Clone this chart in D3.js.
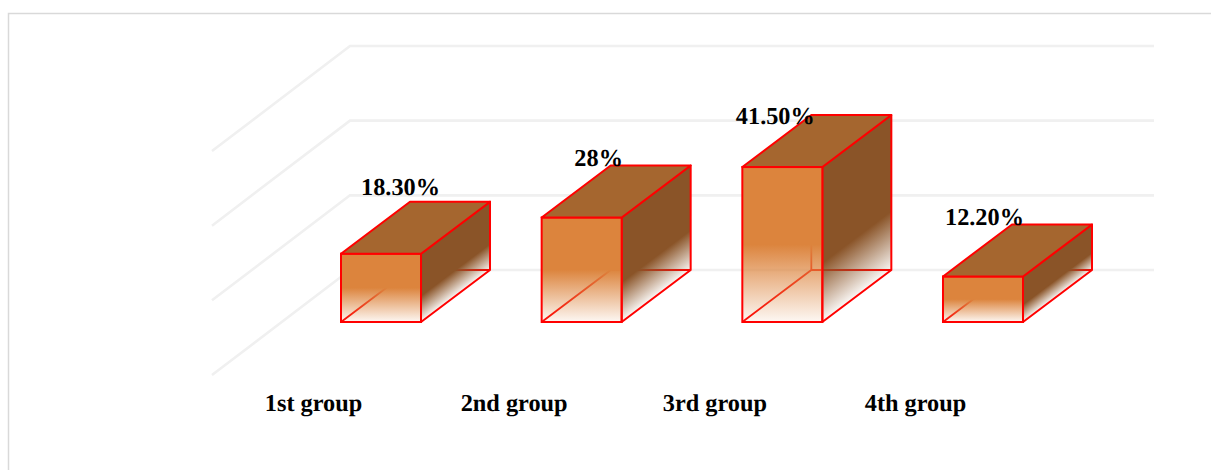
<!DOCTYPE html>
<html><head><meta charset="utf-8">
<script src="https://cdn.jsdelivr.net/npm/d3@7/dist/d3.min.js"></script>
<style>html,body{margin:0;padding:0;background:#fff}svg{display:block}text{font-family:"Liberation Serif","Times New Roman",serif;font-weight:bold;font-size:24.3px;fill:#000;text-rendering:geometricPrecision}</style>
</head><body><svg id="c" width="1211" height="470"></svg>
<script>
const categories = ["1st group","2nd group","3rd group","4th group"];
const values = [18.3,28,41.5,12.2];
const valueLabels = ["18.30%","28%","41.50%","12.20%"];
const gridTicks = [0,20,40,60];
const labelDx = [19.5,17,-7,1.5];
const labelDy = [-7,1,9,1];

const svg = d3.select("#c");
const floorFront = 322, depthX = 69, depthY = 52, wallX = 138, wallY = 105;
const wallLeft = 350, wallRight = 1154, wallZero = 270;
const x = d3.scaleBand().domain(categories).range([341,1023]).paddingInner(0.6013).paddingOuter(0);
const h = d3.scaleLinear().domain([0,60]).range([0,224]);
const w = x.bandwidth();

// frame
svg.append("path").attr("d","M8.5,470V13.5H1211").attr("fill","none").attr("stroke","#d9d9d9").attr("stroke-width",1.5);

// gridlines on the walls
svg.append("g").selectAll("path").data(gridTicks).join("path")
  .attr("d",t=>{const y=wallZero-h(t);return `M${wallLeft-wallX},${y+wallY}L${wallLeft},${y}H${wallRight}`;})
  .attr("fill","none").attr("stroke","#f0f0f0").attr("stroke-width",2.6);

const defs = svg.append("defs");
function grad(id,color,x0,y1,y2,skew,start,endOpacity){
  const g = defs.append("linearGradient").attr("id",id).attr("gradientUnits","userSpaceOnUse")
    .attr("x1",x0).attr("x2",x0).attr("y1",y1).attr("y2",y2);
  if(skew) g.attr("gradientTransform",`translate(${x0},0) skewY(${Math.atan2(-depthY,depthX)*180/Math.PI}) translate(${-x0},0)`);
  g.append("stop").attr("offset",0).attr("stop-color",color);
  g.append("stop").attr("offset",start).attr("stop-color",color);
  g.append("stop").attr("offset",1).attr("stop-color",color).attr("stop-opacity",endOpacity);
}
const red = "#ff0000";
categories.forEach((c,i)=>{
  const l=x(c), r=l+w, top=floorFront-h(values[i]), bot=floorFront;
  const g=svg.append("g");
  grad("f"+i,"#dc843d",l,top,bot,false,0.5,0.06);
  grad("s"+i,"#8a5428",r,top,bot,true,0.62,0.04);
  // hidden back edges
  g.append("path").attr("d",`M${l},${bot}l${depthX},${-depthY}H${r+depthX}M${l+depthX},${bot-depthY}V${top-depthY}`)
    .attr("fill","none").attr("stroke",red).attr("stroke-width",1.8);
  // side face
  g.append("path").attr("d",`M${r},${top}L${r+depthX},${top-depthY}V${bot-depthY}L${r},${bot}Z`)
    .attr("fill",`url(#s${i})`).attr("stroke",red).attr("stroke-width",2).attr("stroke-linejoin","round");
  // front face
  g.append("rect").attr("x",l).attr("y",top).attr("width",w).attr("height",bot-top)
    .attr("fill",`url(#f${i})`).attr("stroke",red).attr("stroke-width",2);
  // top face
  g.append("path").attr("d",`M${l},${top}L${l+depthX},${top-depthY}H${r+depthX}L${r},${top}Z`)
    .attr("fill","#a5662f").attr("stroke",red).attr("stroke-width",2).attr("stroke-linejoin","round");
});

// labels
svg.append("g").selectAll("text").data(categories).join("text")
  .attr("x",c=>x(c)+w/2-67.5).attr("y",410.5).attr("text-anchor","middle").text(c=>c);
svg.append("g").selectAll("text").data(valueLabels).join("text")
  .attr("x",(d,i)=>x(categories[i])+w/2+labelDx[i])
  .attr("y",(d,i)=>floorFront-h(values[i])-depthY+labelDy[i])
  .attr("text-anchor","middle").text(d=>d);
</script></body></html>
